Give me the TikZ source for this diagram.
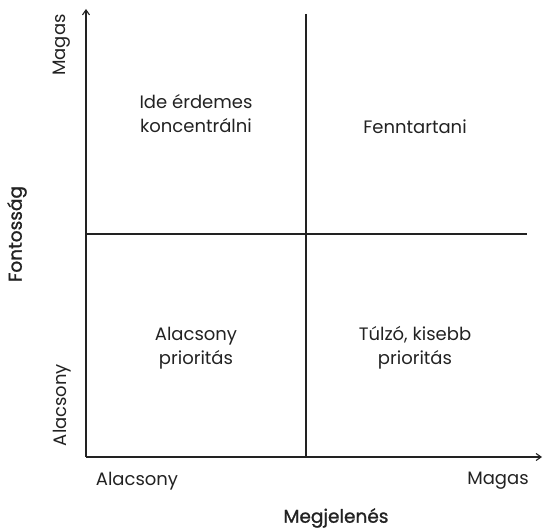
\documentclass[tikz,border=0pt]{standalone}
\usepackage{fontspec}
\setmainfont{Poppins}
\newfontfamily\titlefont{Poppins}[FakeBold=1.2]
\usetikzlibrary{arrows.meta}
\definecolor{ink}{HTML}{222222}
\begin{document}
\begin{tikzpicture}[x=1pt,y=-1pt,
  axis/.style={draw=ink,line width=1.1pt,-{Straight Barb[length=5pt,width=7pt]}},
  divider/.style={draw=ink,line width=1.1pt},
  quad/.style={font=\fontsize{18}{24}\selectfont,text=ink,align=center},
  tick/.style={font=\fontsize{18}{22}\selectfont,text=ink},
  title/.style={font=\titlefont\fontsize{18.5}{22}\selectfont,text=ink}]
\useasboundingbox (0,0) rectangle (543,529);
% axes
\coordinate (O) at (86,457);
\coordinate (ytop) at (86,9);
\coordinate (xend) at (542,457);
\draw[axis] (O) -- (ytop);
\draw[axis] (O) -- (xend);
% quadrant dividers
\coordinate (vtop) at (306,14);
\coordinate (vbot) at (306,457);
\coordinate (hl) at (86,234);
\coordinate (hr) at (527,234);
\draw[divider] (vtop) -- (vbot);
\draw[divider] (hl) -- (hr);
% quadrant labels
\node[quad] (q1) at (196,114) {Ide érdemes\\koncentrálni};
\node[quad] (q2) at (415,127) {Fenntartani};
\node[quad] (q3) at (196,348) {Alacsony\\prioritás};
\node[quad] (q4) at (415,348) {Túlzó, kisebb\\prioritás};
% tick labels
\node[tick,rotate=90] (yhi) at (62,45) {Magas};
\node[tick,rotate=90] (ylo) at (62,405) {Alacsony};
\node[tick] (xlo) at (137,481) {Alacsony};
\node[tick] (xhi) at (498,481) {Magas};
% axis titles
\node[title,rotate=90] (ytitle) at (17,234) {Fontosság};
\node[title] (xtitle) at (336,518) {Megjelenés};
\end{tikzpicture}
\end{document}
